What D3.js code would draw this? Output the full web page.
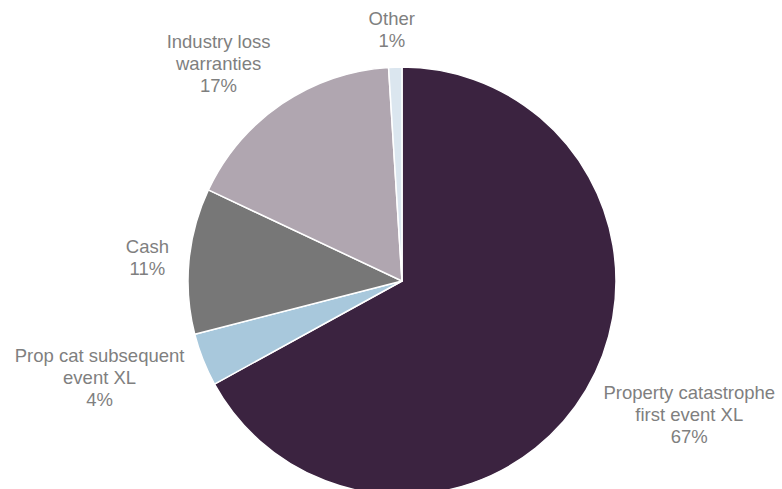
<!DOCTYPE html>
<html>
<head>
<meta charset="utf-8">
<script src="https://cdn.jsdelivr.net/npm/d3@7"></script>
<style>
  html, body { margin: 0; padding: 0; background: #ffffff; }
  svg { display: block; }
</style>
</head>
<body>
<svg id="chart" width="782" height="489"></svg>
<script>
// ---- data ----
const categories = [
  "Property catastrophe\nfirst event XL",
  "Prop cat subsequent\nevent XL",
  "Cash",
  "Industry loss\nwarranties",
  "Other"
];
const values = [67, 4, 11, 17, 1];
const colors = ["#3b2340", "#a8c8dc", "#777777", "#b0a6b0", "#dbe6ef"];

// ---- layout ----
const W = 782, H = 489;
const cx = 402, cy = 281, R = 214;
const fontSize = 18.5, lineH = 22, capH = 0.716 * fontSize;
const labelDist = 234;

const svg = d3.select("#chart");
const g = svg.append("g").attr("transform", `translate(${cx},${cy})`);

const data = categories.map((c, i) => ({ name: c, value: values[i], color: colors[i] }));
const pie = d3.pie().value(d => d.value).sort(null);
const arc = d3.arc().innerRadius(0).outerRadius(R);
const arcs = pie(data);

g.selectAll("path.slice")
  .data(arcs)
  .join("path")
  .attr("class", "slice")
  .attr("d", arc)
  .attr("fill", d => d.data.color)
  .attr("stroke", "#ffffff")
  .attr("stroke-width", 1.5)
  .attr("stroke-linejoin", "round");

const total = d3.sum(values);
const labels = g.selectAll("text.lbl")
  .data(arcs)
  .join("text")
  .attr("class", "lbl")
  .attr("text-anchor", "middle")
  .attr("font-family", "'Liberation Sans', Arial, sans-serif")
  .attr("font-size", fontSize)
  .attr("fill", "#7f7f7f");

labels.each(function(d) {
  const lines = d.data.name.split("\n").concat([Math.round(d.data.value / total * 100) + "%"]);
  const t = d3.select(this);
  lines.forEach((ln, i) => {
    t.append("tspan").attr("x", 0).attr("y", i * lineH).text(ln);
  });
  // measure
  const bb = this.getBBox();
  const w = bb.width;
  const n = lines.length;
  const hBlock = capH + (n - 1) * lineH;
  const a = (d.startAngle + d.endAngle) / 2;
  const ux = Math.sin(a), uy = -Math.cos(a);
  const fx = Math.max(-1, Math.min(1, ux * 4));
  const bx = ux * labelDist + fx * w / 2;
  const by = uy * labelDist + uy * hBlock / 2;
  const firstBase = by - hBlock / 2 + capH;
  t.selectAll("tspan")
    .attr("x", bx)
    .attr("y", (_, i) => firstBase + i * lineH);
});
</script>
</body>
</html>
